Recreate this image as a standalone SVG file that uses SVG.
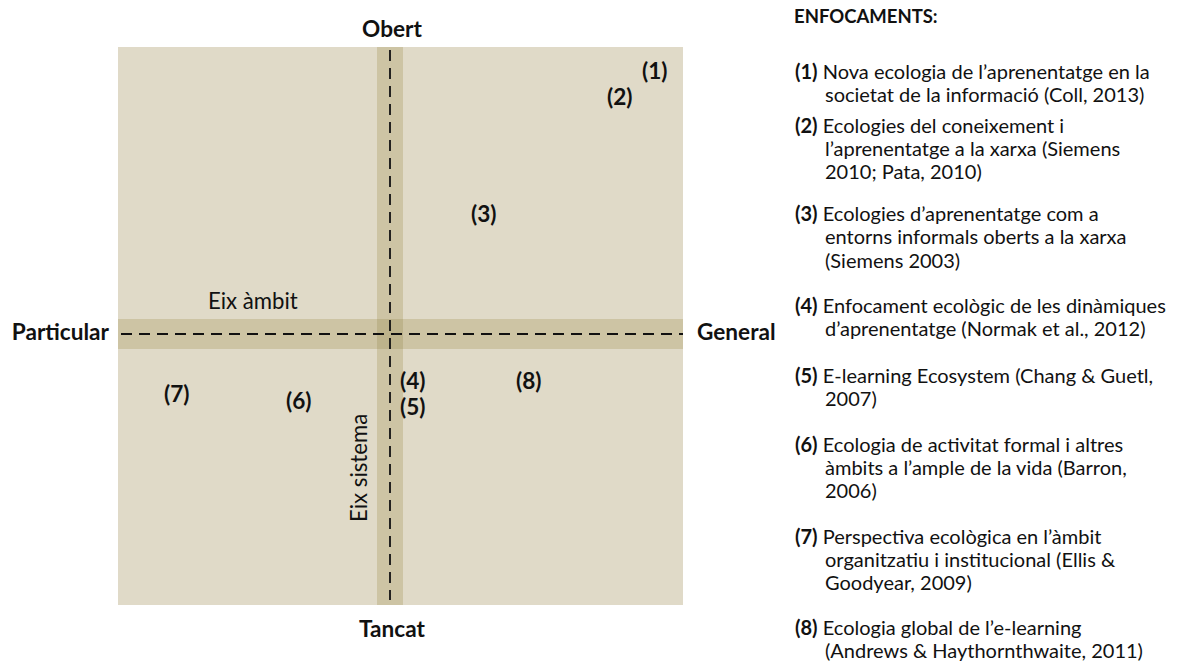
<svg xmlns="http://www.w3.org/2000/svg" width="1180" height="663" viewBox="0 0 1180 663">
  <style>
    text { font-family: Lato, "Open Sans", "Liberation Sans", sans-serif; fill: #111; }
    .pole { font-size: 22.6px; font-weight: bold; }
    .num { font-size: 22.6px; font-weight: bold; }
    .axis-name { font-size: 22.2px; }
    .legend { font-size: 20px; }
    .legend tspan.b { font-weight: bold; }
    .head { font-size: 18.5px; font-weight: bold; }
    .dash { stroke: #111; stroke-width: 1.8; stroke-dasharray: 11 7; fill: none; }
  </style>

  <!-- quadrant field -->
  <g id="field">
    <rect x="118" y="47" width="565" height="558" fill="#E0DAC8"/>
    <rect x="118" y="319" width="565" height="30" fill="#CDC4A4"/>
    <rect x="377" y="47" width="26" height="558" fill="#CDC4A4"/>
    <rect x="377" y="319" width="26" height="30" fill="#BDB38B"/>
  </g>

  <!-- axes -->
  <g id="axes">
    <line class="dash" x1="121" y1="334" x2="683" y2="334"/>
    <line class="dash" x1="390" y1="50" x2="390" y2="600"/>
  </g>

  <!-- pole labels -->
  <g id="poles">
    <text class="pole" x="392" y="37" text-anchor="middle">Obert</text>
    <text class="pole" x="392" y="637" text-anchor="middle">Tancat</text>
    <text class="pole" x="109" y="340" text-anchor="end">Particular</text>
    <text class="pole" x="697" y="340">General</text>
  </g>

  <!-- axis names -->
  <g id="axis-names">
    <text class="axis-name" x="208" y="309">Eix àmbit</text>
    <text class="axis-name" transform="translate(367,522) rotate(-90)">Eix sistema</text>
  </g>

  <!-- approach markers -->
  <g id="markers">
    <text class="num" id="m1" x="642" y="79">(1)</text>
    <text class="num" id="m2" x="607" y="105">(2)</text>
    <text class="num" id="m3" x="471" y="222">(3)</text>
    <text class="num" id="m4" x="400" y="389">(4)</text>
    <text class="num" id="m5" x="400" y="415">(5)</text>
    <text class="num" id="m6" x="286" y="409">(6)</text>
    <text class="num" id="m7" x="164" y="402">(7)</text>
    <text class="num" id="m8" x="516" y="389">(8)</text>
  </g>

  <!-- legend -->
  <g id="legend" class="legend">
    <text class="head" x="794" y="23">ENFOCAMENTS:</text>
    <text x="795" y="79"><tspan class="b">(1)</tspan> Nova ecologia de l’aprenentatge en la</text>
    <text x="825" y="102">societat de la informació (Coll, 2013)</text>

    <text x="795" y="133"><tspan class="b">(2)</tspan> Ecologies del coneixement i</text>
    <text x="825" y="156">l’aprenentatge a la xarxa (Siemens</text>
    <text x="825" y="179">2010; Pata, 2010)</text>

    <text x="795" y="221"><tspan class="b">(3)</tspan> Ecologies d’aprenentatge com a</text>
    <text x="825" y="244">entorns informals oberts a la xarxa</text>
    <text x="825" y="268">(Siemens 2003)</text>

    <text x="795" y="313"><tspan class="b">(4)</tspan> Enfocament ecològic de les dinàmiques</text>
    <text x="825" y="336">d’aprenentatge (Normak et al., 2012)</text>

    <text x="795" y="383"><tspan class="b">(5)</tspan> E-learning Ecosystem (Chang &amp; Guetl,</text>
    <text x="825" y="406">2007)</text>

    <text x="795" y="452"><tspan class="b">(6)</tspan> Ecologia de activitat formal i altres</text>
    <text x="825" y="475">àmbits a l’ample de la vida (Barron,</text>
    <text x="825" y="498">2006)</text>

    <text x="795" y="544"><tspan class="b">(7)</tspan> Perspectiva ecològica en l’àmbit</text>
    <text x="825" y="567">organitzatiu i institucional (Ellis &amp;</text>
    <text x="825" y="590">Goodyear, 2009)</text>

    <text x="795" y="635"><tspan class="b">(8)</tspan> Ecologia global de l’e-learning</text>
    <text x="825" y="658">(Andrews &amp; Haythornthwaite, 2011)</text>
  </g>
</svg>
